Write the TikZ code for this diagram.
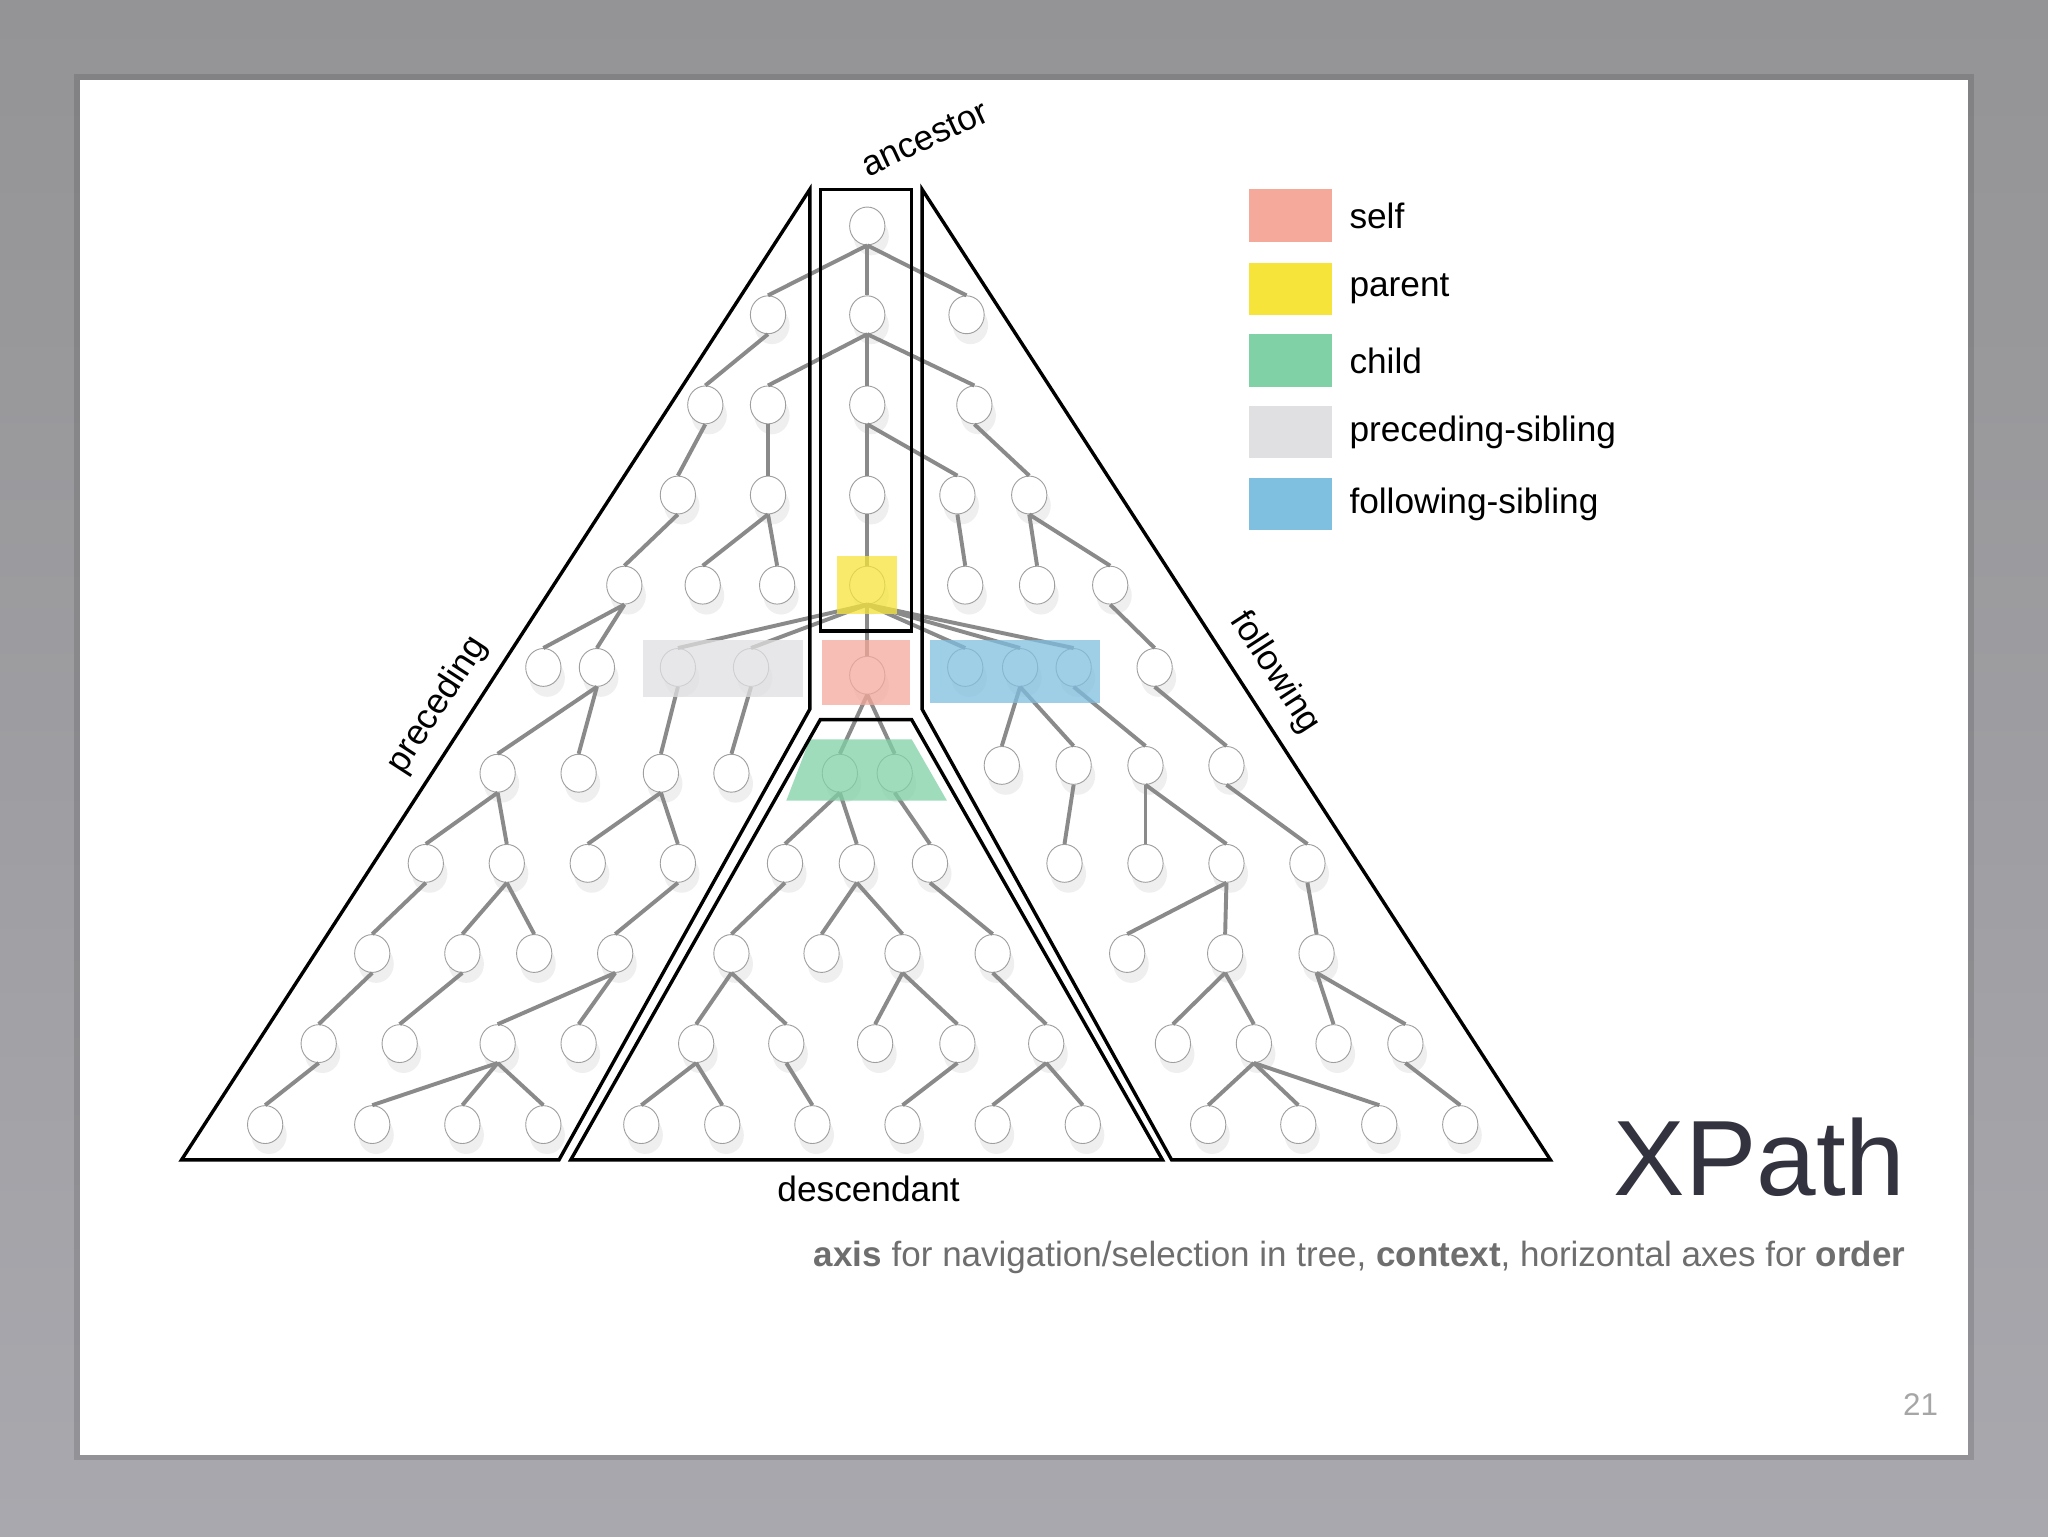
\documentclass[tikz,border=0pt]{standalone}
\usepackage{fontspec}
\setmainfont{Liberation Sans}
\usetikzlibrary{shapes.geometric,shadows}
\definecolor{cself}{HTML}{F4A99B}
\definecolor{cpar}{HTML}{F7E43A}
\definecolor{cchild}{HTML}{80D1A6}
\definecolor{cpsib}{HTML}{E0E0E2}
\definecolor{cfsib}{HTML}{7FBFE0}
\definecolor{edgec}{HTML}{8A8A8A}
\definecolor{subc}{HTML}{6E6E6E}
\definecolor{titc}{HTML}{33333F}
\begin{document}
\begin{tikzpicture}[x=1pt,y=-1pt,
  nd/.style={ellipse,minimum width=27pt,minimum height=29pt,inner sep=0pt,draw=gray!75,line width=0.7pt,fill=white,
    drop shadow={shadow xshift=3pt,shadow yshift=-8pt,opacity=0.12,fill=gray}},
  edge/.style={draw=edgec,line width=3pt},
  border/.style={draw=black,line width=2.6pt,line join=miter},
  hl/.style={opacity=0.75},
  lbl/.style={font=\fontsize{27}{32}\selectfont,inner sep=0pt}]
\useasboundingbox (0,0) rectangle (1568,1176);
\shade[top color={rgb,255:red,148;green,148;blue,150},bottom color={rgb,255:red,168;green,168;blue,174}] (0,0) rectangle (1568,1176);
\fill[black,opacity=0.12] (57,57) rectangle (1511,1118);
\fill[white] (61,61) rectangle (1507,1114);
% nodes
\foreach \n/\x/\y in {r0/664/173,
 a1/588/241,c1/664/241,f1/740/241,
 a2/540/310,b2/588/310,c2/664/310,f2/746/310,
 a3/519/379,b3/588/379,c3/664/379,f3/733/379,g3/788/379,
 a4/478/448,b4/538/448,c4/595/448,P/664/448,f4/739/448,g4/794/448,h4/850/448,
 a5/416/511,b5/457/511,ps1/519/511,ps2/575/511,S/664/517,fs1/739/511,fs2/781/511,fs3/822/511,h5/884/511,
 a6/381/592,b6/443/592,c6/506/592,d6/560/592,ch1/643/592,ch2/685/592,R6a/767/586,R6b/822/586,R6c/877/586,R6d/939/586,
 a7/326/661,b7/388/661,c7/450/661,d7/519/661,D7a/601/661,D7b/656/661,D7c/712/661,R7a/815/661,R7b/877/661,R7c/939/661,R7d/1001/661,
 a8/285/730,b8/354/730,c8/409/730,d8/471/730,D8a/560/730,D8b/629/730,D8c/691/730,D8d/760/730,R8a/863/730,R8b/938/730,R8c/1008/730,
 a9/244/799,b9/306/799,c9/381/799,d9/443/799,D9a/533/799,D9b/602/799,D9c/670/799,D9d/733/799,D9e/801/799,R9a/898/799,R9b/960/799,R9c/1021/799,R9d/1076/799,
 a10/203/861,b10/285/861,c10/354/861,d10/416/861,D10a/491/861,D10b/553/861,D10c/622/861,D10d/691/861,D10e/760/861,D10f/829/861,R10a/925/861,R10b/994/861,R10c/1056/861,R10d/1118/861}
 \node[nd] (\n) at (\x,\y) {};
% edges
\foreach \p/\c in {r0/a1,r0/c1,r0/f1,c1/b2,c1/c2,c1/f2,a1/a2,c2/c3,c2/f3,b2/b3,a2/a3,a3/a4,b3/b4,b3/c4,c3/P,
 f2/g3,f3/f4,g3/g4,g3/h4,h4/h5,P/ps1,P/ps2,P/S,P/fs1,P/fs2,P/fs3,a4/a5,a4/b5,S/ch1,S/ch2,b5/a6,b5/b6,ps1/c6,ps2/d6,
 fs2/R6a,fs2/R6b,fs3/R6c,h5/R6d,a6/a7,a6/b7,c6/c7,c6/d7,a7/a8,b7/b8,b7/c8,d7/d8,a8/a9,b8/b9,d8/c9,d8/d9,a9/a10,
 c9/b10,c9/c10,c9/d10,ch1/D7a,ch1/D7b,ch2/D7c,D7a/D8a,D7b/D8b,D7b/D8c,D7c/D8d,D8a/D9a,D8a/D9b,D8c/D9c,D8c/D9d,D8d/D9e,
 D9a/D10a,D9a/D10b,D9b/D10c,D9d/D10d,D9e/D10e,D9e/D10f,R6b/R7a,R6c/R7b,R6c/R7c,R6d/R7d,R7c/R8a,R7c/R8b,R7d/R8c,
 R8b/R9a,R8b/R9b,R8c/R9c,R8c/R9d,R9b/R10a,R9b/R10b,R9b/R10c,R9d/R10d}
 \draw[edge] (\p.south) -- (\c.north);
% highlights
\fill[cpar,hl] (641,426) rectangle (687,470);
\fill[cself,hl] (629,490) rectangle (697,540);
\fill[cpsib,hl] (492,490) rectangle (615,534);
\fill[cfsib,hl] (712,490) rectangle (842,538);
\fill[cchild,hl] (620,566) -- (698,566) -- (725,613) -- (602,613) -- cycle;
% borders
\draw[border] (620,145) -- (620,543) -- (428,888) -- (139,888) -- cycle;
\draw[border] (628,145) rectangle (698,483);
\draw[border] (706,145) -- (706,543) -- (897,888) -- (1187,888) -- cycle;
\draw[border] (628,551) -- (698,551) -- (890,888) -- (437,888) -- cycle;
% labels
\node[lbl,rotate=25] (lanc) at (708,106) {ancestor};
\node[lbl,rotate=57] (lpre) at (335,540) {preceding};
\node[lbl,rotate=-57] (lfol) at (976,515) {following};
\node[lbl] (ldes) at (665,910) {descendant};
% legend
\foreach \c/\t/\y [count=\i] in {cself/self/165,cpar/parent/221,cchild/child/276,cpsib/preceding-sibling/331,cfsib/following-sibling/386}{
 \fill[\c] (956,\y-20) rectangle (1020,\y+20);
 \node[lbl,anchor=west] (leg\i) at (1033,\y) {\t};
}
\node[inner sep=0pt,anchor=base east,text=titc,font=\fontsize{82}{90}\selectfont] (xp) at (1459,915) {XPath};
\node[inner sep=0pt,anchor=base east,text=subc,font=\fontsize{26.8}{31}\selectfont] (sub) at (1459,970) {\textbf{axis} for navigation/selection in tree, \textbf{context}, horizontal axes for \textbf{order}};
\node[inner sep=0pt,anchor=base east,text=gray!70,font=\fontsize{24}{28}\selectfont] (pg) at (1484,1084) {21};
\end{tikzpicture}
\end{document}
